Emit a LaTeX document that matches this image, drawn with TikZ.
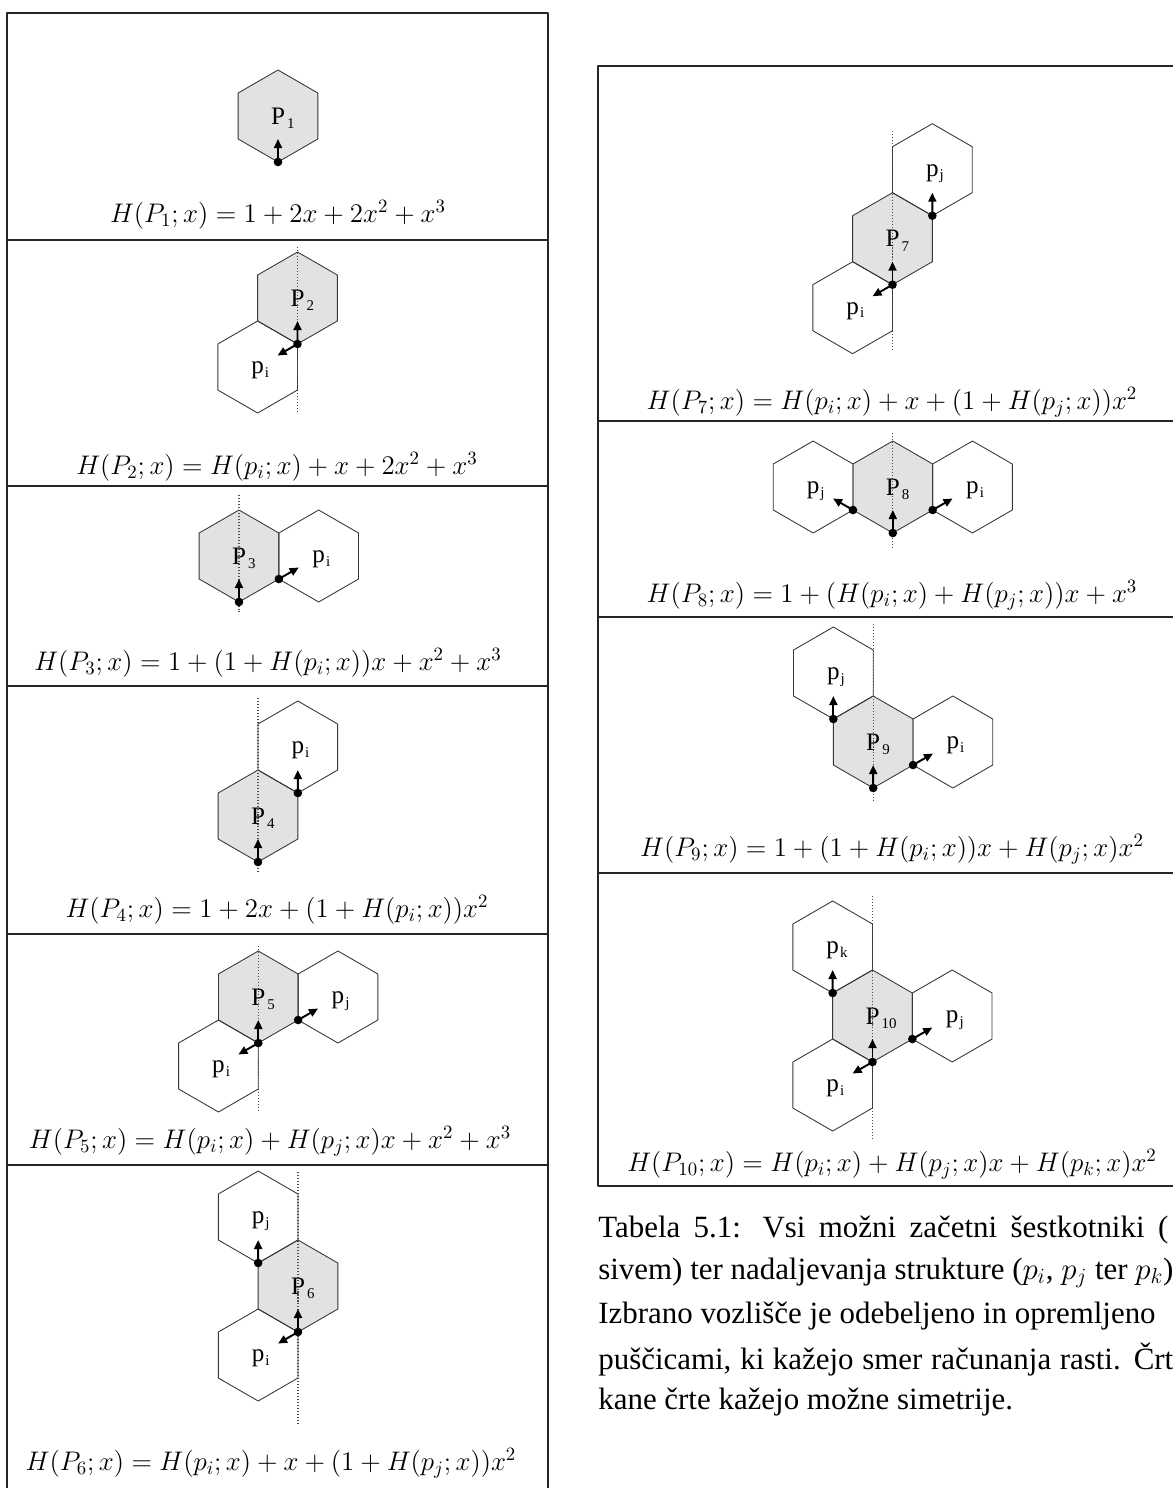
\documentclass[tikz,border=0pt]{standalone}
\usepackage{fix-cm}
\usepackage{fontspec}
\usepackage{amsmath}
\usetikzlibrary{arrows.meta,calc}
\newfontfamily\serfont{Liberation Serif}
\definecolor{cellgray}{RGB}{225,226,228}
\definecolor{edgegray}{RGB}{55,55,55}

% one hexagon (circumradius 46) round a named centre
\newcommand{\hexcell}[2][]{%
  \draw[cell,#1] ($(#2)+(0,-46)$) -- ($(#2)+(39.84,-23)$) -- ($(#2)+(39.84,23)$)
    -- ($(#2)+(0,46)$) -- ($(#2)+(-39.84,23)$) -- ($(#2)+(-39.84,-23)$) -- cycle;}
\newcommand{\startlbl}[1]{P\rlap{\kern1.2pt\smash{\raisebox{-2.4pt}{\fontsize{8.5}{9}\selectfont #1}}}}
\newcommand{\nextlbl}[1]{p\rlap{\kern0.6pt\smash{\raisebox{-2pt}{\fontsize{8.5}{9}\selectfont #1}}}}

\tikzset{
  tabline/.style={line width=0.75pt, black!85},
  cell/.style={draw=edgegray, line width=0.5pt},
  startcell/.style={fill=cellgray},
  symline/.style={black!70, line width=0.6pt, dash pattern=on 0.6pt off 1.1pt},
  growarrow/.style={line width=1.1pt, -{Triangle[length=1.8mm,width=1.6mm]}},
  hexlbl/.style={font=\serfont\fontsize{14.3}{16}\selectfont, inner sep=0pt},
  nextcell/.style={hexlbl, yshift=-2pt},
  formula/.style={font=\fontsize{15.3}{18}\selectfont, inner sep=0pt},
  captxt/.style={font=\serfont\fontsize{17.6}{21}\selectfont, inner sep=0pt, anchor=west}
}

\begin{document}
\begin{tikzpicture}[x=0.02cm, y=-0.02cm, line join=round]
  \useasboundingbox (0,0) rectangle (1173,1488);
  \clip (0,0) rectangle (1173,1488);

  % the two tables
  \draw[tabline] (7,1500) -- (7,13) -- (548,13) -- (548,1500);
  \foreach \y in {240,486,686,934,1165} {\draw[tabline] (7,\y) -- (548,\y);}
  \draw[tabline] (598,66) rectangle (1186,1186);
  \foreach \y in {421,617,873} {\draw[tabline] (598,\y) -- (1186,\y);}

  % P1
  \coordinate (c1) at (278,116);
  \coordinate (b1) at ($(c1)+(0,46)$);
  \hexcell[startcell]{c1}
  \draw[growarrow] (b1) -- ($(b1)!.5!(c1)$);
  \node[hexlbl] (P1) at (c1) {\startlbl{1}};
  \node[formula] (f1) at (278,215) {$H(P_1;x) = 1 + 2x + 2x^2 + x^3$};

  % P2
  \coordinate (c2) at (297.5,298);
  \coordinate (i2) at ($(c2)+(-39.84,69)$);
  \coordinate (b2) at ($(c2)+(0,46)$);
  \hexcell[startcell]{c2}
  \hexcell{i2}
  \draw[symline] (297.5,247) -- (297.5,413);
  \draw[growarrow] (b2) -- ($(b2)!.5!(c2)$);
  \draw[growarrow] (b2) -- ($(b2)!.5!(i2)$);
  \node[hexlbl] (P2) at (c2) {\startlbl{2}};
  \node[nextcell] (p2i) at (i2) {\nextlbl{i}};
  \node[formula] (f2) at (277,467) {$H(P_2;x) = H(p_i;x) + x + 2x^2 + x^3$};

  % P3
  \coordinate (c3) at (239,556);
  \coordinate (i3) at ($(c3)+(79.67,0)$);
  \coordinate (b3) at ($(c3)+(0,46)$);
  \coordinate (r3) at ($(c3)+(39.84,23)$);
  \hexcell[startcell]{c3}
  \hexcell{i3}
  \draw[symline] (239,495) -- (239,612);
  \draw[growarrow] (b3) -- ($(b3)!.5!(c3)$);
  \draw[growarrow] (r3) -- ($(r3)!.5!(i3)$);
  \node[hexlbl] (P3) at (c3) {\startlbl{3}};
  \node[nextcell] (p3i) at (i3) {\nextlbl{i}};
  \node[formula] (f3) at (268,663) {$H(P_3;x) = 1 + (1 + H(p_i;x))x + x^2 + x^3$};

  % P4
  \coordinate (c4) at (258,816);
  \coordinate (i4) at ($(c4)+(39.84,-69)$);
  \coordinate (b4) at ($(c4)+(0,46)$);
  \coordinate (r4) at ($(c4)+(39.84,-23)$);
  \hexcell[startcell]{c4}
  \hexcell{i4}
  \draw[symline] (258,698) -- (258,872);
  \draw[growarrow] (b4) -- ($(b4)!.5!(c4)$);
  \draw[growarrow] (r4) -- ($(r4)!.5!(i4)$);
  \node[hexlbl] (P4) at (c4) {\startlbl{4}};
  \node[nextcell] (p4i) at (i4) {\nextlbl{i}};
  \node[formula] (f4) at (277,910) {$H(P_4;x) = 1 + 2x + (1 + H(p_i;x))x^2$};

  % P5
  \coordinate (c5) at (258.3,997);
  \coordinate (i5) at ($(c5)+(-39.84,69)$);
  \coordinate (j5) at ($(c5)+(79.67,0)$);
  \coordinate (b5) at ($(c5)+(0,46)$);
  \coordinate (r5) at ($(c5)+(39.84,23)$);
  \hexcell[startcell]{c5}
  \hexcell{i5}
  \hexcell{j5}
  \draw[symline] (258.3,946) -- (258.3,1111);
  \draw[growarrow] (b5) -- ($(b5)!.5!(c5)$);
  \draw[growarrow] (b5) -- ($(b5)!.5!(i5)$);
  \draw[growarrow] (r5) -- ($(r5)!.5!(j5)$);
  \node[hexlbl] (P5) at (c5) {\startlbl{5}};
  \node[nextcell] (p5i) at (i5) {\nextlbl{i}};
  \node[nextcell] (p5j) at (j5) {\nextlbl{j}};
  \node[formula] (f5) at (270,1141) {$H(P_5;x) = H(p_i;x) + H(p_j;x)x + x^2 + x^3$};

  % P6
  \coordinate (c6) at (298,1286);
  \coordinate (j6) at ($(c6)+(-39.84,-69)$);
  \coordinate (i6) at ($(c6)+(-39.84,69)$);
  \coordinate (b6) at ($(c6)+(0,46)$);
  \coordinate (l6) at ($(c6)+(-39.84,-23)$);
  \hexcell[startcell]{c6}
  \hexcell{j6}
  \hexcell{i6}
  \draw[symline] (298,1172) -- (298,1424);
  \draw[growarrow] (b6) -- ($(b6)!.5!(c6)$);
  \draw[growarrow] (b6) -- ($(b6)!.5!(i6)$);
  \draw[growarrow] (l6) -- ($(l6)!.5!(j6)$);
  \node[hexlbl] (P6) at (c6) {\startlbl{6}};
  \node[nextcell] (p6i) at (i6) {\nextlbl{i}};
  \node[nextcell] (p6j) at (j6) {\nextlbl{j}};
  \node[formula] (f6) at (271,1463) {$H(P_6;x) = H(p_i;x) + x + (1 + H(p_j;x))x^2$};

  % P7
  \coordinate (c7) at (892.5,238.7);
  \coordinate (i7) at ($(c7)+(-39.84,69)$);
  \coordinate (j7) at ($(c7)+(39.84,-69)$);
  \coordinate (b7) at ($(c7)+(0,46)$);
  \coordinate (r7) at ($(c7)+(39.84,-23)$);
  \hexcell[startcell]{c7}
  \hexcell{i7}
  \hexcell{j7}
  \draw[symline] (892.5,131) -- (892.5,352);
  \draw[growarrow] (b7) -- ($(b7)!.5!(c7)$);
  \draw[growarrow] (b7) -- ($(b7)!.5!(i7)$);
  \draw[growarrow] (r7) -- ($(r7)!.5!(j7)$);
  \node[hexlbl] (P7) at (c7) {\startlbl{7}};
  \node[nextcell] (p7i) at (i7) {\nextlbl{i}};
  \node[nextcell] (p7j) at (j7) {\nextlbl{j}};
  \node[formula] (f7) at (892,402) {$H(P_7;x) = H(p_i;x) + x + (1 + H(p_j;x))x^2$};

  % P8
  \coordinate (c8) at (892.8,487);
  \coordinate (j8) at ($(c8)+(-79.67,0)$);
  \coordinate (i8) at ($(c8)+(79.67,0)$);
  \coordinate (b8) at ($(c8)+(0,46)$);
  \coordinate (l8) at ($(c8)+(-39.84,23)$);
  \coordinate (r8) at ($(c8)+(39.84,23)$);
  \hexcell[startcell]{c8}
  \hexcell{j8}
  \hexcell{i8}
  \draw[symline] (892.8,433) -- (892.8,547);
  \draw[growarrow] (b8) -- ($(b8)!.5!(c8)$);
  \draw[growarrow] (l8) -- ($(l8)!.5!(j8)$);
  \draw[growarrow] (r8) -- ($(r8)!.5!(i8)$);
  \node[hexlbl] (P8) at (c8) {\startlbl{8}};
  \node[nextcell] (p8j) at (j8) {\nextlbl{j}};
  \node[nextcell] (p8i) at (i8) {\nextlbl{i}};
  \node[formula] (f8) at (892,595) {$H(P_8;x) = 1 + (H(p_i;x) + H(p_j;x))x + x^3$};

  % P9
  \coordinate (c9) at (873.2,742);
  \coordinate (j9) at ($(c9)+(-39.84,-69)$);
  \coordinate (i9) at ($(c9)+(79.67,0)$);
  \coordinate (b9) at ($(c9)+(0,46)$);
  \coordinate (l9) at ($(c9)+(-39.84,-23)$);
  \coordinate (r9) at ($(c9)+(39.84,23)$);
  \hexcell[startcell]{c9}
  \hexcell{j9}
  \hexcell{i9}
  \draw[symline] (873.2,624) -- (873.2,802);
  \draw[growarrow] (b9) -- ($(b9)!.5!(c9)$);
  \draw[growarrow] (l9) -- ($(l9)!.5!(j9)$);
  \draw[growarrow] (r9) -- ($(r9)!.5!(i9)$);
  \node[hexlbl] (P9) at (c9) {\startlbl{9}};
  \node[nextcell] (p9j) at (j9) {\nextlbl{j}};
  \node[nextcell] (p9i) at (i9) {\nextlbl{i}};
  \node[formula] (f9) at (892,849) {$H(P_9;x) = 1 + (1 + H(p_i;x))x + H(p_j;x)x^2$};

  % P10
  \coordinate (c10) at (872.5,1016);
  \coordinate (k10) at ($(c10)+(-39.84,-69)$);
  \coordinate (j10) at ($(c10)+(79.67,0)$);
  \coordinate (i10) at ($(c10)+(-39.84,69)$);
  \coordinate (b10) at ($(c10)+(0,46)$);
  \coordinate (l10) at ($(c10)+(-39.84,-23)$);
  \coordinate (r10) at ($(c10)+(39.84,23)$);
  \hexcell[startcell]{c10}
  \hexcell{k10}
  \hexcell{j10}
  \hexcell{i10}
  \draw[symline] (872.5,896) -- (872.5,1139);
  \draw[growarrow] (b10) -- ($(b10)!.5!(c10)$);
  \draw[growarrow] (b10) -- ($(b10)!.5!(i10)$);
  \draw[growarrow] (l10) -- ($(l10)!.5!(k10)$);
  \draw[growarrow] (r10) -- ($(r10)!.5!(j10)$);
  \node[hexlbl] (P10) at (c10) {\startlbl{10}};
  \node[nextcell] (p10k) at (k10) {\nextlbl{k}};
  \node[nextcell] (p10j) at (j10) {\nextlbl{j}};
  \node[nextcell] (p10i) at (i10) {\nextlbl{i}};
  \node[formula] (f10) at (892,1164) {$H(P_{10};x) = H(p_i;x) + H(p_j;x)x + H(p_k;x)x^2$};

  % chosen vertices
  \foreach \v in {b1,b2,b3,r3,b4,r4,b5,r5,b6,l6,b7,r7,b8,l8,r8,b9,l9,r9,b10,l10,r10}
    {\fill (\v) circle (4.3);}

  % caption
  \node[captxt] (cap1) at (598,1230) {\makebox[11.4cm][s]{Tabela 5.1: Vsi možni začetni šestkotniki (}};
  \node[captxt] (cap2) at (598,1273) {sivem) ter nadaljevanja strukture ($p_i$, $p_j$ ter $p_k$)};
  \node[captxt] (cap3) at (598,1316) {Izbrano vozlišče je odebeljeno in opremljeno};
  \node[captxt] (cap4) at (598,1359) {\makebox[11.5cm][s]{puščicami, ki kažejo smer računanja rasti. Črt}};
  \node[captxt] (cap5) at (598,1402) {kane črte kažejo možne simetrije.};
\end{tikzpicture}
\end{document}
